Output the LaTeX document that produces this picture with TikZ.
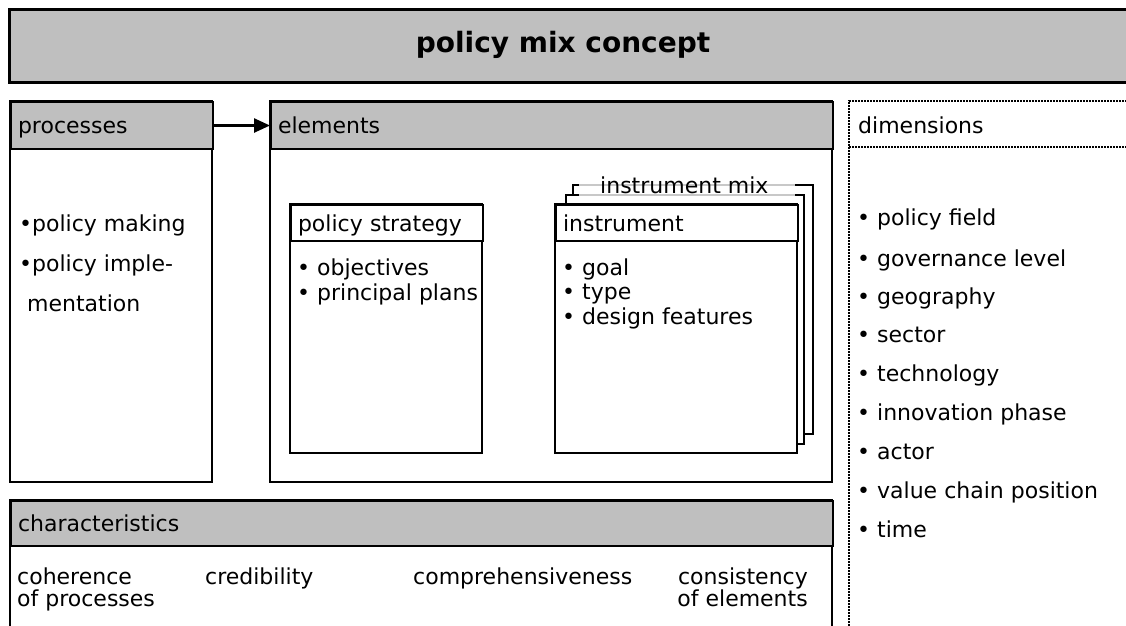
\documentclass[tikz,border=0pt]{standalone}
\usepackage{fontspec}
\setmainfont{DejaVu Sans}
\usetikzlibrary{arrows.meta,positioning}
\definecolor{boxgray}{RGB}{191,191,191}
\definecolor{mixgray}{RGB}{200,200,200}

\begin{document}
\begin{tikzpicture}[
        x=1pt, y=-1pt,
        >={Triangle[length=16pt,width=14pt]},
        box/.style={draw, line width=2pt},
        head/.style={
            draw,
            line width=2pt,
            fill=boxgray,
            anchor=north west,
            minimum height=47pt,
            inner xsep=7pt,
            inner ysep=0pt,
            text height=17pt,
            text depth=1pt,
            align=left,
            font=\fontsize{22}{26}\selectfont
        },
        txt/.style={anchor=base west, inner sep=0pt, font=\fontsize{22}{26}\selectfont},
        dimline/.style={line width=2pt, dash pattern=on 1.6pt off 1.4pt}
    ]
        \useasboundingbox (0,0) rectangle (1126,625);
        \clip (0,0) rectangle (1126,625);

        % title bar
        \draw[box, line width=3pt, fill=boxgray] (9,9) rectangle (1145,82);
        \node[font=\fontsize{28}{32}\selectfont\bfseries] (title) at (563,45) {policy mix concept};

        % processes
        \draw[box] (10,101) rectangle (212,482);
        \node[head, text width=188pt] (procHead) at (10,101) {processes};
        \node[txt] (pMaking) at (19,231) {•policy making};
        \node[txt] (pImpl) at (19,271) {•policy imple-};
        \node[txt] (pMent) at (27,311) {mentation};

        % elements
        \draw[box] (270,101) rectangle (832,482);
        \node[head, text width=548pt] (elemHead) at (270,101) {elements};
        \draw[->, line width=2.5pt] (procHead) -- (elemHead);

        % policy strategy
        \draw[box, fill=white] (290,204) rectangle (482,453);
        \node[head, fill=white, minimum height=36pt, text width=178pt] (stratHead) at (290,204) {policy strategy};
        \node[txt] (sObj) at (297,275) {• objectives};
        \node[txt] (sPlans) at (297,300) {• principal plans};

        % stacked instruments
        \draw[box, fill=white] (573,185) rectangle (813,434);
        \draw[box, fill=white] (566,195) rectangle (804,444);
        \draw[line width=2pt, mixgray] (579,185) -- (795,185);
        \draw[line width=2pt, mixgray] (579,195) -- (795,195);
        \node[txt] (mixLabel) at (600,193) {instrument mix};
        \draw[box, fill=white] (555,204) rectangle (797,453);
        \node[head, fill=white, minimum height=36pt, text width=228pt] (instHead) at (555,204) {instrument};
        \node[txt] (iGoal) at (562,275) {• goal};
        \node[txt] (iType) at (562,299) {• type};
        \node[txt] (iDesign) at (562,324) {• design features};

        % characteristics
        \draw[box] (10,500) rectangle (832,650);
        \node[head, minimum height=45pt, text width=808pt] (charHead) at (10,500) {characteristics};
        \node[txt] (cCoh) at (17,584) {coherence};
        \node[txt] (cCohB) at (17,606) {of processes};
        \node[txt] (cCred) at (205,584) {credibility};
        \node[txt] (cComp) at (413,584) {comprehensiveness};
        \node[txt, anchor=base east] (cCons) at (808,584) {consistency};
        \node[txt, anchor=base east] (cConsB) at (808,606) {of elements};

        % dimensions
        \draw[dimline] (849,650) -- (849,101) -- (1145,101);
        \draw[dimline] (849,147) -- (1145,147);
        \node[txt] (dimHead) at (858,133) {dimensions};
        \node[txt] (dField) at (857,225) {• policy field};
        \node[txt] (dGov) at (857,266) {• governance level};
        \node[txt] (dGeo) at (857,304) {• geography};
        \node[txt] (dSector) at (857,342) {• sector};
        \node[txt] (dTech) at (857,381) {• technology};
        \node[txt] (dInno) at (857,420) {• innovation phase};
        \node[txt] (dActor) at (857,459) {• actor};
        \node[txt] (dValue) at (857,498) {• value chain position};
        \node[txt] (dTime) at (857,537) {• time};
    \end{tikzpicture}
\end{document}
